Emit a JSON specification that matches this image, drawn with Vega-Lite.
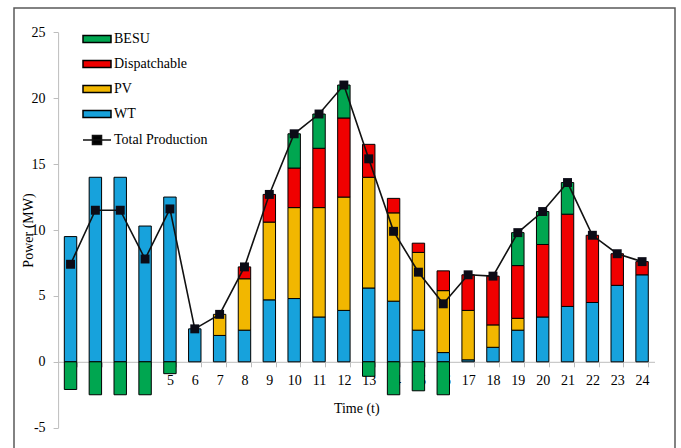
{
  "$schema": "https://vega.github.io/schema/vega-lite/v6.json",
  "width": 661,
  "height": 442,
  "autosize": {"type": "none"},
  "padding": {"left": 14, "top": 8, "right": 6, "bottom": 0},
  "config": {
    "view": {"stroke": "#595959", "strokeWidth": 1.5},
    "font": "Liberation Serif",
    "axis": {
      "labelFont": "Liberation Serif", "titleFont": "Liberation Serif",
      "labelFontSize": 14, "titleFontSize": 14, "labelColor": "#000", "titleColor": "#000",
      "titleFontWeight": "normal", "domainColor": "#bdbdbd", "tickColor": "#bdbdbd", "grid": false
    },
    "legend": {"labelFont": "Liberation Serif", "labelFontSize": 14, "labelColor": "#000"}
  },
  "datasets": {
    "prod": [
      {"t": 1, "source": "WT", "value": 9.5}, {"t": 1, "source": "BESU", "value": -2.1},
      {"t": 2, "source": "WT", "value": 14.0}, {"t": 2, "source": "BESU", "value": -2.5},
      {"t": 3, "source": "WT", "value": 14.0}, {"t": 3, "source": "BESU", "value": -2.5},
      {"t": 4, "source": "WT", "value": 10.3}, {"t": 4, "source": "BESU", "value": -2.5},
      {"t": 5, "source": "WT", "value": 12.5}, {"t": 5, "source": "BESU", "value": -0.9},
      {"t": 6, "source": "WT", "value": 2.5},
      {"t": 7, "source": "WT", "value": 2.0}, {"t": 7, "source": "PV", "value": 1.6},
      {"t": 8, "source": "WT", "value": 2.4}, {"t": 8, "source": "PV", "value": 3.9}, {"t": 8, "source": "Dispatchable", "value": 0.9},
      {"t": 9, "source": "WT", "value": 4.7}, {"t": 9, "source": "PV", "value": 5.9}, {"t": 9, "source": "Dispatchable", "value": 2.1},
      {"t": 10, "source": "WT", "value": 4.8}, {"t": 10, "source": "PV", "value": 6.9}, {"t": 10, "source": "Dispatchable", "value": 3.0}, {"t": 10, "source": "BESU", "value": 2.6},
      {"t": 11, "source": "WT", "value": 3.4}, {"t": 11, "source": "PV", "value": 8.3}, {"t": 11, "source": "Dispatchable", "value": 4.5}, {"t": 11, "source": "BESU", "value": 2.6},
      {"t": 12, "source": "WT", "value": 3.9}, {"t": 12, "source": "PV", "value": 8.6}, {"t": 12, "source": "Dispatchable", "value": 6.0}, {"t": 12, "source": "BESU", "value": 2.5},
      {"t": 13, "source": "WT", "value": 5.6}, {"t": 13, "source": "PV", "value": 8.4}, {"t": 13, "source": "Dispatchable", "value": 2.5}, {"t": 13, "source": "BESU", "value": -1.1},
      {"t": 14, "source": "WT", "value": 4.6}, {"t": 14, "source": "PV", "value": 6.7}, {"t": 14, "source": "Dispatchable", "value": 1.1}, {"t": 14, "source": "BESU", "value": -2.5},
      {"t": 15, "source": "WT", "value": 2.4}, {"t": 15, "source": "PV", "value": 5.9}, {"t": 15, "source": "Dispatchable", "value": 0.7}, {"t": 15, "source": "BESU", "value": -2.2},
      {"t": 16, "source": "WT", "value": 0.7}, {"t": 16, "source": "PV", "value": 4.7}, {"t": 16, "source": "Dispatchable", "value": 1.5}, {"t": 16, "source": "BESU", "value": -2.5},
      {"t": 17, "source": "WT", "value": 0.15}, {"t": 17, "source": "PV", "value": 3.75}, {"t": 17, "source": "Dispatchable", "value": 2.7},
      {"t": 18, "source": "WT", "value": 1.1}, {"t": 18, "source": "PV", "value": 1.7}, {"t": 18, "source": "Dispatchable", "value": 3.7},
      {"t": 19, "source": "WT", "value": 2.4}, {"t": 19, "source": "PV", "value": 0.9}, {"t": 19, "source": "Dispatchable", "value": 4.0}, {"t": 19, "source": "BESU", "value": 2.5},
      {"t": 20, "source": "WT", "value": 3.4}, {"t": 20, "source": "Dispatchable", "value": 5.5}, {"t": 20, "source": "BESU", "value": 2.5},
      {"t": 21, "source": "WT", "value": 4.2}, {"t": 21, "source": "Dispatchable", "value": 7.0}, {"t": 21, "source": "BESU", "value": 2.4},
      {"t": 22, "source": "WT", "value": 4.5}, {"t": 22, "source": "Dispatchable", "value": 5.1},
      {"t": 23, "source": "WT", "value": 5.8}, {"t": 23, "source": "Dispatchable", "value": 2.4},
      {"t": 24, "source": "WT", "value": 6.6}, {"t": 24, "source": "Dispatchable", "value": 1.0}
    ],
    "total": [
      {"t": 1, "total": 7.4}, {"t": 2, "total": 11.5}, {"t": 3, "total": 11.5}, {"t": 4, "total": 7.8},
      {"t": 5, "total": 11.6}, {"t": 6, "total": 2.5}, {"t": 7, "total": 3.6}, {"t": 8, "total": 7.2},
      {"t": 9, "total": 12.7}, {"t": 10, "total": 17.3}, {"t": 11, "total": 18.8}, {"t": 12, "total": 21.0},
      {"t": 13, "total": 15.4}, {"t": 14, "total": 9.9}, {"t": 15, "total": 6.8}, {"t": 16, "total": 4.4},
      {"t": 17, "total": 6.6}, {"t": 18, "total": 6.5}, {"t": 19, "total": 9.8}, {"t": 20, "total": 11.4},
      {"t": 21, "total": 13.6}, {"t": 22, "total": 9.6}, {"t": 23, "total": 8.2}, {"t": 24, "total": 7.6}
    ]
  },
  "layer": [
    {
      "data": {"name": "prod"},
      "mark": {"type": "bar", "stroke": "#000", "strokeWidth": 1},
      "encoding": {
        "x": {
          "field": "t", "type": "ordinal",
          "scale": {"range": [44.1, 640.5], "paddingInner": 0.5, "paddingOuter": 0.25},
          "axis": {"title": "Time (t)", "labelAngle": 0, "offset": -88.2, "tickBand": "extent", "tickSize": 5, "labelPadding": 7, "titlePadding": 14}
        },
        "y": {
          "field": "value", "type": "quantitative", "stack": "zero",
          "scale": {"domain": [-5, 25], "range": [419.7, 24.3], "nice": false},
          "axis": {"title": "Power (MW)", "values": [-5, 0, 5, 10, 15, 20, 25], "labelExpr": "'' + datum.value", "offset": -44.1, "tickSize": 5, "labelPadding": 8, "titlePadding": -4}
        },
        "color": {
          "field": "source", "type": "nominal",
          "scale": {"domain": ["BESU", "Dispatchable", "PV", "WT"], "range": ["#00a650", "#f00000", "#f2b700", "#17a2dc"]},
          "legend": {
            "orient": "none", "legendX": 68, "legendY": 16, "title": null,
            "symbolType": "M-1,-0.25H1V0.25H-1Z", "symbolSize": 784,
            "symbolStrokeColor": "#000", "symbolStrokeWidth": 1.5, "symbolOpacity": 1,
            "rowPadding": 3, "labelOffset": 2
          }
        },
        "order": {"field": "source", "sort": "descending"}
      }
    },
    {
      "data": {"name": "total"},
      "mark": {"type": "line", "strokeWidth": 1.6},
      "encoding": {
        "x": {"field": "t", "type": "ordinal"},
        "y": {"field": "total", "type": "quantitative"},
        "stroke": {
          "datum": "Total Production",
          "scale": {"domain": ["Total Production"], "range": ["#111111"]},
          "legend": {
            "orient": "none", "legendX": 68, "legendY": 117, "title": null,
            "symbolType": "M-1,0H1M-0.32,-0.32H0.32V0.32H-0.32Z", "symbolSize": 784,
            "symbolStrokeColor": "#000", "symbolFillColor": "#000", "symbolStrokeWidth": 1.6, "labelOffset": 2
          }
        }
      }
    },
    {
      "data": {"name": "total"},
      "mark": {"type": "point", "shape": "square", "filled": true, "size": 80, "color": "#0b0b16", "opacity": 1},
      "encoding": {
        "x": {"field": "t", "type": "ordinal"},
        "y": {"field": "total", "type": "quantitative"}
      }
    }
  ]
}
